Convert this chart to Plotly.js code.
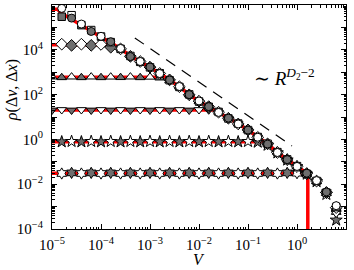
<!DOCTYPE html>
<html><head><meta charset="utf-8">
<script src="https://cdn.plot.ly/plotly-3.0.1.min.js"></script>
<style>html,body{margin:0;padding:0;background:#fff;}#chart{width:354px;height:270px;}</style>
</head><body><div id="chart"></div>
<script>
// V grid (log-spaced sample positions, 0.2 decade apart)
const V_GRID = [1.00e-5, 1.58e-5, 2.51e-5, 3.98e-5, 6.31e-5, 1.00e-4, 1.58e-4, 2.51e-4, 3.98e-4, 6.31e-4,
  1.00e-3, 1.58e-3, 2.51e-3, 3.98e-3, 6.31e-3, 1.00e-2, 1.58e-2, 2.51e-2, 3.98e-2, 6.31e-2,
  0.100, 0.158, 0.251, 0.398, 0.631, 1.00, 1.58, 2.51, 3.98, 6.31];
const V_A = V_GRID.slice(1);   // series starting at 1.58e-5
const V_B = V_GRID;            // series starting at 1e-5

const circY = [7.08e5, 2.6e5, 1.41e5, 6.6e4, 4.0e4, 2.3e4, 1.15e4, 5.0e3, 3.0e3, 1.7e3, 870, 450, 230, 100, 52, 29, 16, 8.9, 4.9, 2.6, 1.25, 0.62, 0.26, 0.125, 0.062, 0.031, 0.0145, 0.0045, 0.0011];
const sqY = [3.0e5, 3.5e5, 1.26e5, 7.6e4, 3.9e4, 2.2e4, 1.1e4, 5.3e3, 2.9e3, 1.65e3, 900, 440, 220, 102, 49, 28.5, 16.8, 8.6, 5.1, 2.6, 1.28, 0.64, 0.27, 0.128, 0.064, 0.029, 0.014, 0.0042, 0.00095];
const diaY = [1.78e4, 1.58e4, 1.78e4, 1.58e4, 1.74e4, 1.3e4, 1.1e4, 5.1e3, 3.0e3, 1.68e3, 880, 455, 225, 98, 51, 29, 16.4, 8.8, 4.9, 2.65, 1.24, 0.63, 0.26, 0.124, 0.061, 0.03, 0.0138, 0.0043, 0.0009];
const triUpY = [620, 580, 620, 580, 620, 580, 615, 585, 620, 580, 610, 560, 420, 225, 100, 50, 29, 16.6, 8.9, 5.0, 2.6, 1.27, 0.62, 0.265, 0.125, 0.063, 0.03, 0.0135, 0.004, 0.0008];
const triDnY = [20, 21, 20, 21, 20, 21, 20, 21, 20, 21, 20, 21, 20, 21, 20, 21, 20.5, 15.5, 8.5, 4.9, 2.55, 1.22, 0.6, 0.255, 0.12, 0.06, 0.029, 0.013, 0.0036, 0.0005];
const starY = [0.78, 0.81, 0.78, 0.81, 0.78, 0.81, 0.78, 0.81, 0.78, 0.81, 0.78, 0.81, 0.78, 0.81, 0.78, 0.81, 0.78, 0.81, 0.78, 0.81, 0.75, 0.55, 0.25, 0.12, 0.06, 0.028, 0.013, 0.0035, 0.00025];
const hexY = [0.030, 0.032, 0.030, 0.032, 0.030, 0.032, 0.030, 0.032, 0.030, 0.032, 0.030, 0.032, 0.030, 0.032, 0.030, 0.032, 0.030, 0.032, 0.030, 0.032, 0.030, 0.032, 0.030, 0.032, 0.031, 0.029, 0.014, 0.0042, 0.0006];

// red theory curves
const redEnvX = [1.0e-5, 1.3e-5, 1.58e-5, 2.51e-5, 3.98e-5, 6.31e-5, 1.00e-4, 1.58e-4, 2.51e-4, 3.98e-4, 6.31e-4,
  1.00e-3, 1.58e-3, 2.51e-3, 3.98e-3, 6.31e-3, 1.00e-2, 1.58e-2, 2.51e-2, 3.98e-2, 6.31e-2,
  0.100, 0.158, 0.251, 0.398, 0.631, 1.00, 1.58, 1.66, 1.66];
const redEnvY = [6.5e5, 6.5e5, 4.2e5, 2.3e5, 1.3e5, 7.4e4, 4.1e4, 2.25e4, 1.12e4, 5.3e3, 2.95e3, 1.66e3, 890, 447, 224, 100, 50, 28.8, 16.6, 8.7, 5.0, 2.63, 1.26, 0.63, 0.263, 0.126, 0.063, 0.030, 0.029, 1e-9];
const redPlatLevel = [1.66e4, 600, 20.4, 0.79, 0.031];
const redPlatEnd = [1.95e-4, 1.95e-3, 2.1e-2, 0.19, 1.66];

// dashed guide ~ R^{D2-2}
const dashX = [4.9e-4, 0.79];
const dashY = [3.4e4, 0.51];

const xTickVals = [1e-5, 1e-4, 1e-3, 1e-2, 1e-1, 1, 10];
const xTickText = ['10<sup>−5</sup>', '10<sup>−4</sup>', '10<sup>−3</sup>', '10<sup>−2</sup>', '10<sup>−1</sup>', '10<sup>0</sup>', '10<sup>1</sup>'];
const yTickVals = [1e-4, 1e-3, 1e-2, 1e-1, 1, 10, 1e2, 1e3, 1e4, 1e5, 1e6];
const yTickText = ['10<sup>−4</sup>', '', '10<sup>−2</sup>', '', '10<sup>0</sup>', '', '10<sup>2</sup>', '', '10<sup>4</sup>', '', '10<sup>6</sup>'];

const GREY = '#6e6e6e', WHITE = '#ffffff';
function fills(n, greyFirst) {
  const c = [];
  for (let i = 0; i < n; i++) c.push(((i % 2 === 0) === greyFirst) ? GREY : WHITE);
  return c;
}
function mk(x, y, symbol, greyFirst, size) {
  return {x: x, y: y, type: 'scatter', mode: 'markers', hoverinfo: 'skip', showlegend: false,
    marker: {symbol: symbol, size: size, color: fills(y.length, greyFirst), line: {color: '#000', width: 1}}};
}

const traces = [];
traces.push({x: redEnvX, y: redEnvY, mode: 'lines', line: {color: '#ff0000', width: 3.5}, showlegend: false, hoverinfo: 'skip'});
for (let i = 0; i < redPlatLevel.length; i++) {
  traces.push({x: [1e-5, redPlatEnd[i]], y: [redPlatLevel[i], redPlatLevel[i]], mode: 'lines',
    line: {color: '#ff0000', width: 3.5}, showlegend: false, hoverinfo: 'skip'});
}
traces.push({x: dashX, y: dashY, mode: 'lines', line: {color: '#000', width: 1.2, dash: '11px,8px'}, showlegend: false, hoverinfo: 'skip'});
traces.push(mk(V_A, hexY, 'hexagram', false, 8.5));
traces.push(mk(V_A, starY, 'star', true, 9));
traces.push(mk(V_B, triDnY, 'triangle-down', true, 8.5));
traces.push(mk(V_B, triUpY, 'triangle-up', false, 8.5));
traces.push(mk(V_A, diaY, 'diamond', false, 9));
traces.push(mk(V_A, sqY, 'square', true, 7.5));
traces.push(mk(V_A, circY, 'circle', false, 8));
// dummy trace for minor-tick overlay axes
traces.push({x: [1e-3], y: [1], xaxis: 'x2', yaxis: 'y2', mode: 'markers', marker: {opacity: 0}, showlegend: false, hoverinfo: 'skip'});

const minorX = [], minorY = [];
for (let k = -5; k <= 0; k++) for (let m = 2; m <= 9; m++) minorX.push(m * Math.pow(10, k));
for (let k = -4; k <= 5; k++) for (let m = 2; m <= 9; m++) minorY.push(m * Math.pow(10, k));

const FONT = 'Liberation Serif, DejaVu Serif, serif';
const layout = {
  width: 354, height: 270,
  margin: {l: 52, r: 8, t: 5, b: 41},
  paper_bgcolor: '#fff', plot_bgcolor: '#fff',
  showlegend: false,
  font: {family: FONT, color: '#000', size: 15},
  xaxis: {type: 'log', range: [-5, 1], tickmode: 'array', tickvals: xTickVals, ticktext: xTickText,
    ticks: 'inside', ticklen: 5, tickwidth: 1, tickcolor: '#000', showline: true, linecolor: '#000', linewidth: 1,
    mirror: 'allticks', showgrid: false, zeroline: false, tickfont: {family: FONT, size: 15}, ticklabelstandoff: 2},
  yaxis: {type: 'log', range: [-4, 6], tickmode: 'array', tickvals: yTickVals, ticktext: yTickText,
    ticks: 'inside', ticklen: 5, tickwidth: 1, tickcolor: '#000', showline: true, linecolor: '#000', linewidth: 1,
    mirror: 'allticks', showgrid: false, zeroline: false, tickfont: {family: FONT, size: 15}, ticklabelstandoff: 5},
  xaxis2: {type: 'log', range: [-5, 1], overlaying: 'x', anchor: 'y2', tickmode: 'array', tickvals: minorX,
    ticks: 'inside', ticklen: 2.5, tickwidth: 1, tickcolor: '#000', showticklabels: false, mirror: 'allticks',
    showline: false, showgrid: false, zeroline: false},
  yaxis2: {type: 'log', range: [-4, 6], overlaying: 'y', anchor: 'x2', tickmode: 'array', tickvals: minorY,
    ticks: 'inside', ticklen: 2.5, tickwidth: 1, tickcolor: '#000', showticklabels: false, mirror: 'allticks',
    showline: false, showgrid: false, zeroline: false},
  annotations: [
    {xref: 'paper', yref: 'paper', x: 0.79, y: 0.68, showarrow: false, xanchor: 'center', yanchor: 'middle',
     text: '∼ <i>R</i><sup><i>D</i><sub>2</sub>−2</sup>', font: {family: FONT, size: 19}},
    {xref: 'paper', yref: 'paper', x: -0.136, y: 0.62, showarrow: false, textangle: -90, xanchor: 'center', yanchor: 'middle',
     text: '<i>ρ</i>(Δ<i>v</i>, Δ<i>x</i>)', font: {family: FONT, size: 16}},
    {xref: 'paper', yref: 'paper', x: 0.5, y: -0.134, showarrow: false, xanchor: 'center', yanchor: 'middle',
     text: '<i>V</i>', font: {family: FONT, size: 16}}
  ]
};
Plotly.newPlot('chart', traces, layout, {staticPlot: true, displayModeBar: false});
</script>
</body></html>
